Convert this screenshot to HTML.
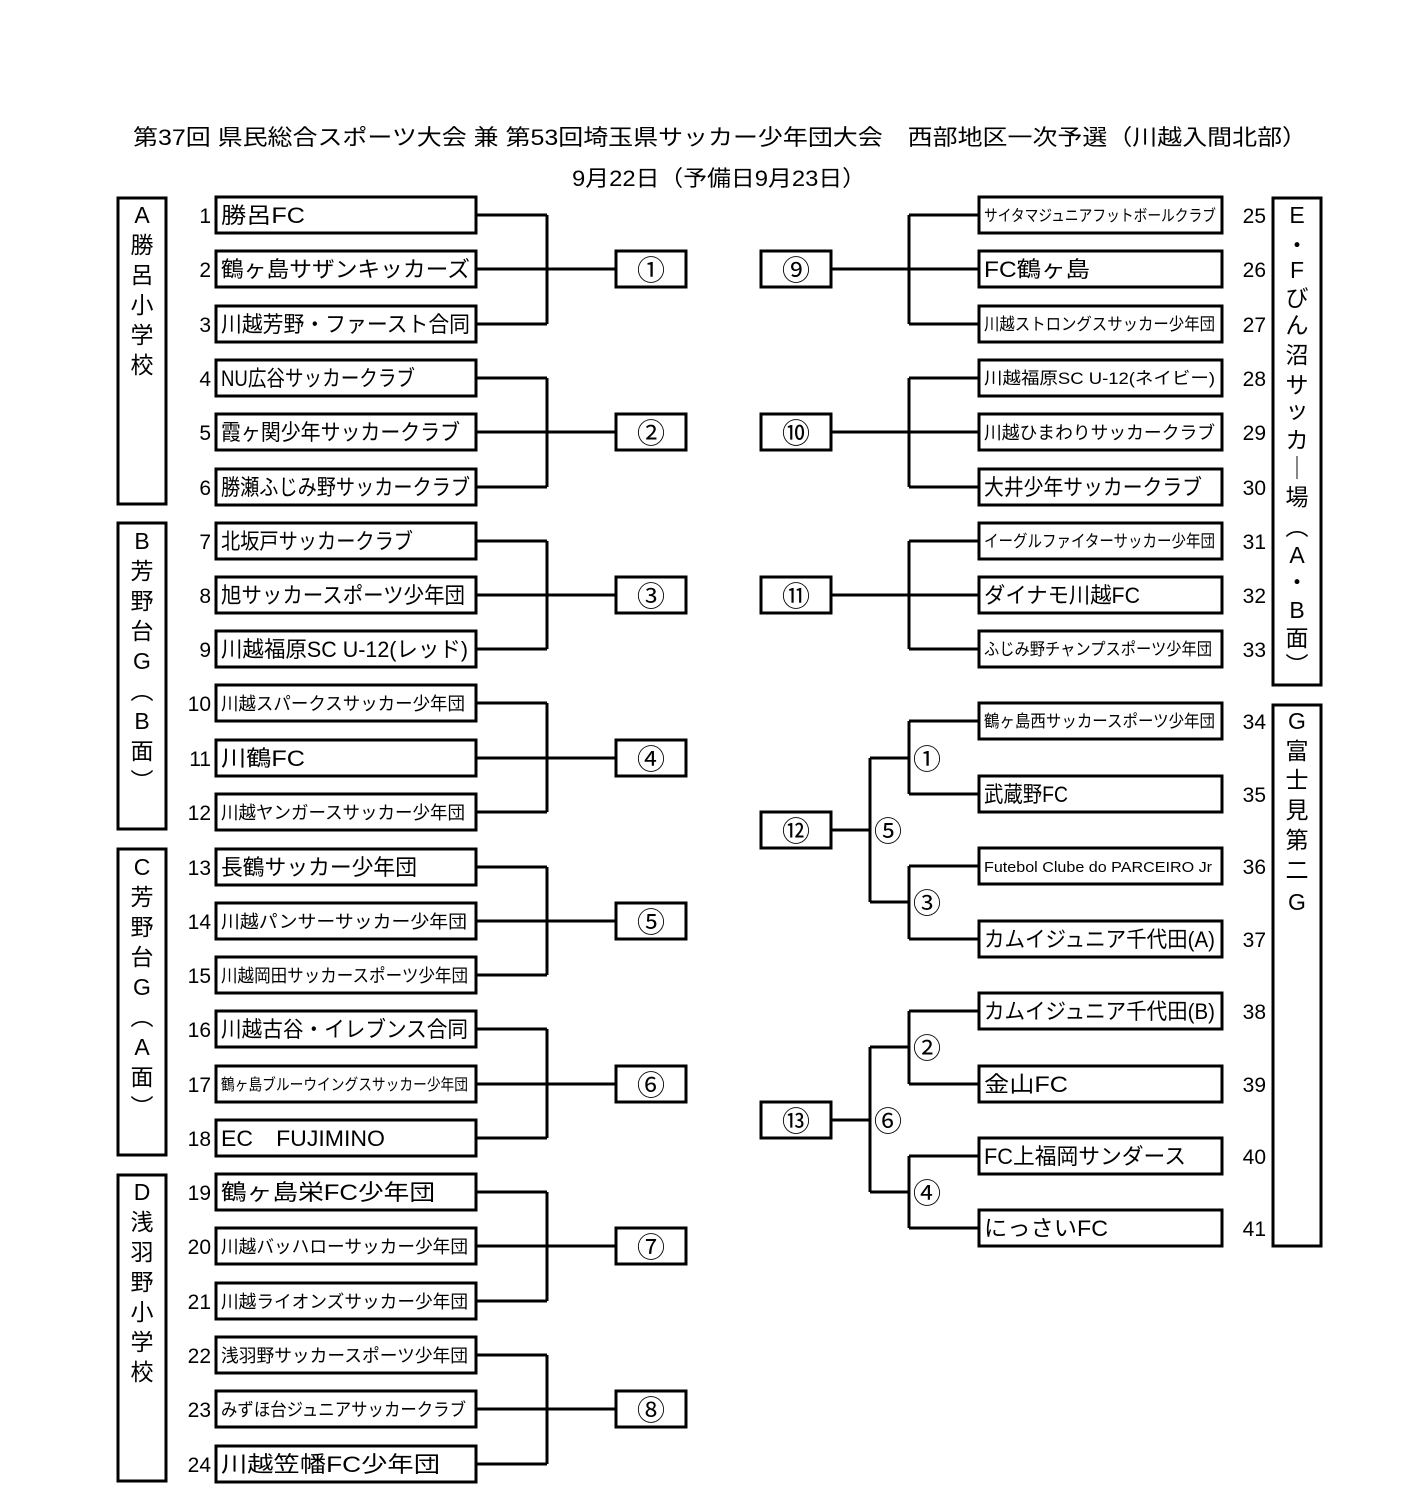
<!DOCTYPE html>
<html><head><meta charset="utf-8"><style>
html,body{margin:0;padding:0;background:#fff;}
svg{display:block;}
text{font-family:"Liberation Sans","Noto Sans CJK JP",sans-serif;fill:#000;}
.n{font-size:21px;text-anchor:end;}
.t{font-size:22px;}
.s{font-size:18px;}
.r{font-size:28px;text-anchor:middle;}
.v{font-size:23px;text-anchor:middle;}
rect{fill:#fff;stroke:#000;stroke-width:3;}
line{stroke:#000;stroke-width:3;}
</style></head><body>
<svg width="1422" height="1490" viewBox="0 0 1422 1490" xmlns="http://www.w3.org/2000/svg">
<text x="133" y="145" style="font-size:22px" textLength="1174" lengthAdjust="spacingAndGlyphs">第37回 県民総合スポーツ大会 兼 第53回埼玉県サッカー少年団大会　西部地区一次予選（川越入間北部）</text>
<text x="572" y="186" style="font-size:22px" textLength="294" lengthAdjust="spacingAndGlyphs">9月22日（予備日9月23日）</text>

<rect x="118" y="198" width="48" height="306"/>
<rect x="118" y="523" width="48" height="306"/>
<rect x="118" y="849" width="48" height="306"/>
<rect x="118" y="1175" width="48" height="306"/>
<rect x="1273" y="198" width="48" height="487"/>
<rect x="1273" y="705" width="48" height="541"/>

<g class="v">
<text x="142" y="223">A</text><text x="142" y="253">勝</text><text x="142" y="283">呂</text><text x="142" y="313">小</text><text x="142" y="343">学</text><text x="142" y="373">校</text>
<text x="142" y="549">B</text><text x="142" y="579">芳</text><text x="142" y="609">野</text><text x="142" y="639">台</text><text x="142" y="669">G</text><text x="142" y="699">︵</text><text x="142" y="729">B</text><text x="142" y="759">面</text><text x="142" y="789">︶</text>
<text x="142" y="875">C</text><text x="142" y="905">芳</text><text x="142" y="935">野</text><text x="142" y="965">台</text><text x="142" y="995">G</text><text x="142" y="1025">︵</text><text x="142" y="1055">A</text><text x="142" y="1085">面</text><text x="142" y="1115">︶</text>
<text x="142" y="1200">D</text><text x="142" y="1230">浅</text><text x="142" y="1260">羽</text><text x="142" y="1290">野</text><text x="142" y="1320">小</text><text x="142" y="1350">学</text><text x="142" y="1380">校</text>
<text x="1297" y="223">E</text><text x="1297" y="253">・</text><text x="1297" y="278">F</text><text x="1297" y="306">び</text><text x="1297" y="333">ん</text><text x="1297" y="363">沼</text><text x="1297" y="393">サ</text><text x="1297" y="418">ッ</text><text x="1297" y="448">カ</text><text x="1297" y="476">｜</text><text x="1297" y="505">場</text><text x="1297" y="535">︵</text><text x="1297" y="563">A</text><text x="1297" y="590">・</text><text x="1297" y="618">B</text><text x="1297" y="646">面</text><text x="1297" y="673">︶</text>
<text x="1297" y="729">G</text><text x="1297" y="759">富</text><text x="1297" y="788">士</text><text x="1297" y="818">見</text><text x="1297" y="848">第</text><text x="1297" y="878">二</text><text x="1297" y="910">G</text>
</g>

<g>
<line x1="477" y1="215" x2="547" y2="215"/><line x1="477" y1="324" x2="547" y2="324"/><line x1="547" y1="215" x2="547" y2="324"/><line x1="477" y1="269" x2="615" y2="269"/>
<line x1="477" y1="378" x2="547" y2="378"/><line x1="477" y1="487" x2="547" y2="487"/><line x1="547" y1="378" x2="547" y2="487"/><line x1="477" y1="432" x2="615" y2="432"/>
<line x1="477" y1="541" x2="547" y2="541"/><line x1="477" y1="649" x2="547" y2="649"/><line x1="547" y1="541" x2="547" y2="649"/><line x1="477" y1="595" x2="615" y2="595"/>
<line x1="477" y1="703" x2="547" y2="703"/><line x1="477" y1="812" x2="547" y2="812"/><line x1="547" y1="703" x2="547" y2="812"/><line x1="477" y1="758" x2="615" y2="758"/>
<line x1="477" y1="867" x2="547" y2="867"/><line x1="477" y1="975" x2="547" y2="975"/><line x1="547" y1="867" x2="547" y2="975"/><line x1="477" y1="921" x2="615" y2="921"/>
<line x1="477" y1="1029" x2="547" y2="1029"/><line x1="477" y1="1138" x2="547" y2="1138"/><line x1="547" y1="1029" x2="547" y2="1138"/><line x1="477" y1="1084" x2="615" y2="1084"/>
<line x1="477" y1="1192" x2="547" y2="1192"/><line x1="477" y1="1301" x2="547" y2="1301"/><line x1="547" y1="1192" x2="547" y2="1301"/><line x1="477" y1="1246" x2="615" y2="1246"/>
<line x1="477" y1="1355" x2="547" y2="1355"/><line x1="477" y1="1464" x2="547" y2="1464"/><line x1="547" y1="1355" x2="547" y2="1464"/><line x1="477" y1="1409" x2="615" y2="1409"/>
</g>
<g>
<line x1="831" y1="269" x2="978" y2="269"/><line x1="909" y1="215" x2="909" y2="324"/><line x1="909" y1="215" x2="978" y2="215"/><line x1="909" y1="324" x2="978" y2="324"/>
<line x1="831" y1="432" x2="978" y2="432"/><line x1="909" y1="378" x2="909" y2="487"/><line x1="909" y1="378" x2="978" y2="378"/><line x1="909" y1="487" x2="978" y2="487"/>
<line x1="831" y1="595" x2="978" y2="595"/><line x1="909" y1="541" x2="909" y2="649"/><line x1="909" y1="541" x2="978" y2="541"/><line x1="909" y1="649" x2="978" y2="649"/>
<line x1="831" y1="830" x2="870" y2="830"/><line x1="870" y1="758" x2="870" y2="902"/><line x1="870" y1="758" x2="909" y2="758"/><line x1="870" y1="902" x2="909" y2="902"/>
<line x1="909" y1="721" x2="909" y2="794"/><line x1="909" y1="721" x2="978" y2="721"/><line x1="909" y1="794" x2="978" y2="794"/>
<line x1="909" y1="866" x2="909" y2="939"/><line x1="909" y1="866" x2="978" y2="866"/><line x1="909" y1="939" x2="978" y2="939"/>
<line x1="831" y1="1120" x2="870" y2="1120"/><line x1="870" y1="1047" x2="870" y2="1192"/><line x1="870" y1="1047" x2="909" y2="1047"/><line x1="870" y1="1192" x2="909" y2="1192"/>
<line x1="909" y1="1011" x2="909" y2="1084"/><line x1="909" y1="1011" x2="978" y2="1011"/><line x1="909" y1="1084" x2="978" y2="1084"/>
<line x1="909" y1="1156" x2="909" y2="1228"/><line x1="909" y1="1156" x2="978" y2="1156"/><line x1="909" y1="1228" x2="978" y2="1228"/>
</g>
<g class="r">
<text x="927" y="769">①</text><text x="927" y="913">③</text><text x="888" y="841">⑤</text>
<text x="927" y="1058">②</text><text x="927" y="1203">④</text><text x="888" y="1131">⑥</text>
</g>

<g>
<rect x="616" y="251" width="70" height="36"/><rect x="616" y="414" width="70" height="36"/><rect x="616" y="577" width="70" height="36"/><rect x="616" y="740" width="70" height="36"/>
<rect x="616" y="903" width="70" height="36"/><rect x="616" y="1066" width="70" height="36"/><rect x="616" y="1228" width="70" height="36"/><rect x="616" y="1391" width="70" height="36"/>
<rect x="761" y="251" width="70" height="36"/><rect x="761" y="414" width="70" height="36"/><rect x="761" y="577" width="70" height="36"/><rect x="761" y="812" width="70" height="36"/><rect x="761" y="1102" width="70" height="36"/>
</g>
<g class="r">
<text x="651" y="280">①</text><text x="651" y="443">②</text><text x="651" y="606">③</text><text x="651" y="769">④</text>
<text x="651" y="932">⑤</text><text x="651" y="1095">⑥</text><text x="651" y="1257">⑦</text><text x="651" y="1420">⑧</text>
<text x="796" y="280">⑨</text><text x="796" y="443">⑩</text><text x="796" y="606">⑪</text><text x="796" y="841">⑫</text><text x="796" y="1131">⑬</text>
</g>

<g>
<rect x="216" y="197" width="260" height="36"/><rect x="216" y="251" width="260" height="36"/><rect x="216" y="306" width="260" height="36"/>
<rect x="216" y="360" width="260" height="36"/><rect x="216" y="414" width="260" height="36"/><rect x="216" y="469" width="260" height="36"/>
<rect x="216" y="523" width="260" height="36"/><rect x="216" y="577" width="260" height="36"/><rect x="216" y="631" width="260" height="36"/>
<rect x="216" y="685" width="260" height="36"/><rect x="216" y="740" width="260" height="36"/><rect x="216" y="794" width="260" height="36"/>
<rect x="216" y="849" width="260" height="36"/><rect x="216" y="903" width="260" height="36"/><rect x="216" y="957" width="260" height="36"/>
<rect x="216" y="1011" width="260" height="36"/><rect x="216" y="1066" width="260" height="36"/><rect x="216" y="1120" width="260" height="36"/>
<rect x="216" y="1174" width="260" height="36"/><rect x="216" y="1228" width="260" height="36"/><rect x="216" y="1283" width="260" height="36"/>
<rect x="216" y="1337" width="260" height="36"/><rect x="216" y="1391" width="260" height="36"/><rect x="216" y="1446" width="260" height="36"/>
</g>
<g class="n">
<text x="211" y="223">1</text><text x="211" y="277">2</text><text x="211" y="332">3</text><text x="211" y="386">4</text><text x="211" y="440">5</text><text x="211" y="495">6</text>
<text x="211" y="549">7</text><text x="211" y="603">8</text><text x="211" y="657">9</text><text x="211" y="711">10</text><text x="211" y="766">11</text><text x="211" y="820">12</text>
<text x="211" y="875">13</text><text x="211" y="929">14</text><text x="211" y="983">15</text><text x="211" y="1037">16</text><text x="211" y="1092">17</text><text x="211" y="1146">18</text>
<text x="211" y="1200">19</text><text x="211" y="1254">20</text><text x="211" y="1309">21</text><text x="211" y="1363">22</text><text x="211" y="1417">23</text><text x="211" y="1472">24</text>
</g>
<g>
<text class="t" x="221" y="223" textLength="84" lengthAdjust="spacingAndGlyphs">勝呂FC</text>
<text class="t" x="221" y="277" textLength="249" lengthAdjust="spacingAndGlyphs">鶴ヶ島サザンキッカーズ</text>
<text class="t" x="221" y="332" textLength="249" lengthAdjust="spacingAndGlyphs">川越芳野・ファースト合同</text>
<text class="t" x="221" y="386" textLength="194" lengthAdjust="spacingAndGlyphs">NU広谷サッカークラブ</text>
<text class="t" x="221" y="440" textLength="239" lengthAdjust="spacingAndGlyphs">霞ヶ関少年サッカークラブ</text>
<text class="t" x="221" y="495" textLength="249" lengthAdjust="spacingAndGlyphs">勝瀬ふじみ野サッカークラブ</text>
<text class="t" x="221" y="549" textLength="192" lengthAdjust="spacingAndGlyphs">北坂戸サッカークラブ</text>
<text class="t" x="221" y="603" textLength="244" lengthAdjust="spacingAndGlyphs">旭サッカースポーツ少年団</text>
<text class="t" x="221" y="657" textLength="247" lengthAdjust="spacingAndGlyphs">川越福原SC U-12(レッド)</text>
<text class="s" x="221" y="710" textLength="244" lengthAdjust="spacingAndGlyphs">川越スパークスサッカー少年団</text>
<text class="t" x="221" y="766" textLength="84" lengthAdjust="spacingAndGlyphs">川鶴FC</text>
<text class="s" x="221" y="819" textLength="244" lengthAdjust="spacingAndGlyphs">川越ヤンガースサッカー少年団</text>
<text class="t" x="221" y="875" textLength="196" lengthAdjust="spacingAndGlyphs">長鶴サッカー少年団</text>
<text class="s" x="221" y="928" textLength="246" lengthAdjust="spacingAndGlyphs">川越パンサーサッカー少年団</text>
<text class="s" x="221" y="982" textLength="247" lengthAdjust="spacingAndGlyphs">川越岡田サッカースポーツ少年団</text>
<text class="t" x="221" y="1037" textLength="247" lengthAdjust="spacingAndGlyphs">川越古谷・イレブンス合同</text>
<text class="s" x="221" y="1090" style="font-size:16px" textLength="247" lengthAdjust="spacingAndGlyphs">鶴ヶ島ブルーウイングスサッカー少年団</text>
<text class="t" x="221" y="1146" textLength="164" lengthAdjust="spacingAndGlyphs">EC　FUJIMINO</text>
<text class="t" x="221" y="1200" textLength="214" lengthAdjust="spacingAndGlyphs">鶴ヶ島栄FC少年団</text>
<text class="s" x="221" y="1253" textLength="247" lengthAdjust="spacingAndGlyphs">川越バッハローサッカー少年団</text>
<text class="s" x="221" y="1308" textLength="247" lengthAdjust="spacingAndGlyphs">川越ライオンズサッカー少年団</text>
<text class="s" x="221" y="1362" textLength="247" lengthAdjust="spacingAndGlyphs">浅羽野サッカースポーツ少年団</text>
<text class="s" x="221" y="1416" textLength="245" lengthAdjust="spacingAndGlyphs">みずほ台ジュニアサッカークラブ</text>
<text class="t" x="221" y="1472" textLength="219" lengthAdjust="spacingAndGlyphs">川越笠幡FC少年団</text>
</g>

<g>
<rect x="979" y="197" width="243" height="36"/><rect x="979" y="251" width="243" height="36"/><rect x="979" y="306" width="243" height="36"/>
<rect x="979" y="360" width="243" height="36"/><rect x="979" y="414" width="243" height="36"/><rect x="979" y="469" width="243" height="36"/>
<rect x="979" y="523" width="243" height="36"/><rect x="979" y="577" width="243" height="36"/><rect x="979" y="631" width="243" height="36"/>
<rect x="979" y="703" width="243" height="36"/><rect x="979" y="776" width="243" height="36"/><rect x="979" y="848" width="243" height="36"/><rect x="979" y="921" width="243" height="36"/>
<rect x="979" y="993" width="243" height="36"/><rect x="979" y="1066" width="243" height="36"/><rect x="979" y="1138" width="243" height="36"/><rect x="979" y="1210" width="243" height="36"/>
</g>
<g class="n">
<text x="1266" y="223">25</text><text x="1266" y="277">26</text><text x="1266" y="332">27</text><text x="1266" y="386">28</text><text x="1266" y="440">29</text><text x="1266" y="495">30</text>
<text x="1266" y="549">31</text><text x="1266" y="603">32</text><text x="1266" y="657">33</text>
<text x="1266" y="729">34</text><text x="1266" y="802">35</text><text x="1266" y="874">36</text><text x="1266" y="947">37</text>
<text x="1266" y="1019">38</text><text x="1266" y="1092">39</text><text x="1266" y="1164">40</text><text x="1266" y="1236">41</text>
</g>
<g>
<text class="s" x="984" y="221" style="font-size:16px" textLength="232" lengthAdjust="spacingAndGlyphs">サイタマジュニアフットボールクラブ</text>
<text class="t" x="984" y="277" textLength="106" lengthAdjust="spacingAndGlyphs">FC鶴ヶ島</text>
<text class="s" x="984" y="330" style="font-size:17px" textLength="231" lengthAdjust="spacingAndGlyphs">川越ストロングスサッカー少年団</text>
<text class="s" x="984" y="384" style="font-size:17px" textLength="231" lengthAdjust="spacingAndGlyphs">川越福原SC U-12(ネイビー)</text>
<text class="s" x="984" y="439" textLength="231" lengthAdjust="spacingAndGlyphs">川越ひまわりサッカークラブ</text>
<text class="t" x="984" y="495" textLength="218" lengthAdjust="spacingAndGlyphs">大井少年サッカークラブ</text>
<text class="s" x="984" y="547" style="font-size:17px" textLength="231" lengthAdjust="spacingAndGlyphs">イーグルファイターサッカー少年団</text>
<text class="t" x="984" y="603" textLength="156" lengthAdjust="spacingAndGlyphs">ダイナモ川越FC</text>
<text class="s" x="984" y="655" style="font-size:17px" textLength="228" lengthAdjust="spacingAndGlyphs">ふじみ野チャンプスポーツ少年団</text>
<text class="s" x="984" y="727" style="font-size:17px" textLength="231" lengthAdjust="spacingAndGlyphs">鶴ヶ島西サッカースポーツ少年団</text>
<text class="t" x="984" y="802" textLength="84" lengthAdjust="spacingAndGlyphs">武蔵野FC</text>
<text class="s" x="984" y="872" style="font-size:15px" textLength="228" lengthAdjust="spacingAndGlyphs">Futebol Clube do PARCEIRO Jr</text>
<text class="t" x="984" y="947" textLength="231" lengthAdjust="spacingAndGlyphs">カムイジュニア千代田(A)</text>
<text class="t" x="984" y="1019" textLength="231" lengthAdjust="spacingAndGlyphs">カムイジュニア千代田(B)</text>
<text class="t" x="984" y="1092" textLength="84" lengthAdjust="spacingAndGlyphs">金山FC</text>
<text class="t" x="984" y="1164" textLength="202" lengthAdjust="spacingAndGlyphs">FC上福岡サンダース</text>
<text class="t" x="984" y="1236" textLength="124" lengthAdjust="spacingAndGlyphs">にっさいFC</text>
</g>
</svg>
</body></html>
